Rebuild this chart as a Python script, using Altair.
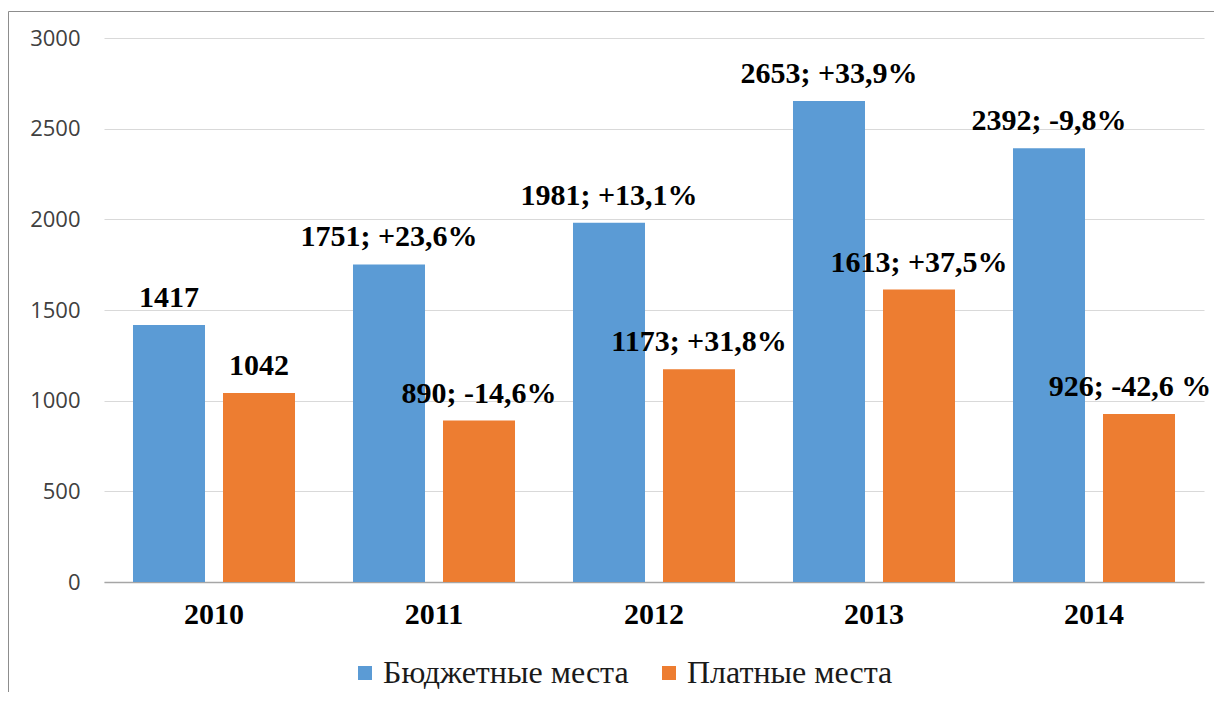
import altair as alt
import pandas as pd

years = ["2010", "2011", "2012", "2013", "2014"]
series = ["Бюджетные места", "Платные места"]
budget = [1417, 1751, 1981, 2653, 2392]
paid = [1042, 890, 1173, 1613, 926]
budget_labels = ["1417", "1751; +23,6%", "1981; +13,1%", "2653; +33,9%", "2392; -9,8%"]
paid_labels = ["1042", "890; -14,6%", "1173; +31,8%", "1613; +37,5%", "926; -42,6 %"]
y_ticks = [0, 500, 1000, 1500, 2000, 2500, 3000]
colors = ["#5B9BD5", "#ED7D31"]

rows = []
for i, yr in enumerate(years):
    rows.append({"year": yr, "series": series[0], "value": budget[i], "label": budget_labels[i], "edge": 0})
    rows.append({"year": yr, "series": series[1], "value": paid[i], "label": paid_labels[i],
                 "edge": 1 if i == len(years) - 1 else 0})
df = pd.DataFrame(rows)

W, H = 1100, 544
SERIF = "Liberation Serif"

x_enc = alt.X(
    "year:N",
    sort=years,
    scale=alt.Scale(paddingInner=0.2636, paddingOuter=0.1318),
    axis=alt.Axis(
        title=None,
        labelAngle=0,
        ticks=False,
        grid=False,
        domainColor="#a6a6a6",
        domainWidth=1.5,
        labelFont=SERIF,
        labelFontWeight="bold",
        labelFontSize=30,
        labelColor="#000000",
        labelPadding=17,
    ),
)
xoff_enc = alt.XOffset("series:N", sort=series, scale=alt.Scale(paddingInner=0.2, paddingOuter=0))
y_enc = alt.Y(
    "value:Q",
    scale=alt.Scale(domain=[0, 3000], nice=False),
    axis=alt.Axis(
        title=None,
        values=y_ticks,
        format="d",
        grid=True,
        gridColor="#d9d9d9",
        gridWidth=1,
        domain=False,
        ticks=False,
        tickSize=0,
        labelPadding=24,
        labelFont="Open Sans",
        labelFontSize=22,
        labelColor="#404040",
    ),
)

base = alt.Chart(df)

bars = base.mark_bar().encode(
    x=x_enc,
    xOffset=xoff_enc,
    y=y_enc,
    color=alt.Color(
        "series:N",
        sort=series,
        scale=alt.Scale(domain=series, range=colors),
        legend=alt.Legend(
            title=None,
            orient="none",
            legendX=245,
            legendY=619,
            direction="horizontal",
            symbolType="square",
            symbolSize=196,
            symbolStrokeWidth=0,
            labelFont=SERIF,
            labelFontSize=32,
            labelColor="#1a1a1a",
            columnPadding=24,
            labelOffset=2,
            labelLimit=500,
            padding=0,
        ),
    ),
)

text_props = dict(
    font=SERIF,
    fontWeight="bold",
    fontSize=30,
    color="#000000",
    baseline="alphabetic",
    align="center",
    dy=-18,
)
text_enc = dict(
    x=alt.X("year:N", sort=years),
    xOffset=alt.XOffset("series:N", sort=series),
    y=alt.Y("value:Q"),
    text="label:N",
)

texts = base.mark_text(**text_props).encode(**text_enc).transform_filter("datum.edge == 0")
texts_edge = base.mark_text(dx=-9, **text_props).encode(**text_enc).transform_filter("datum.edge == 1")

border = alt.Chart(pd.DataFrame({"a": [0]})).mark_rect(
    filled=False, stroke="#8d8d8d", strokeWidth=1
).encode(
    x=alt.value(-95.5),
    x2=alt.value(1130),
    y=alt.value(-26.5),
    y2=alt.value(700),
)

chart = (
    alt.layer(border, bars, texts, texts_edge)
    .properties(
        width=W,
        height=H,
        autosize=alt.AutoSizeParams(type="none"),
        padding={"left": 96, "top": 30, "right": 10, "bottom": 110},
    )
    .configure_view(strokeWidth=0)
    .configure_legend(labelFont=SERIF, labelFontSize=32, labelColor="#1a1a1a")
)

chart.save("out.html", embed_options={"renderer": "svg", "actions": False})
